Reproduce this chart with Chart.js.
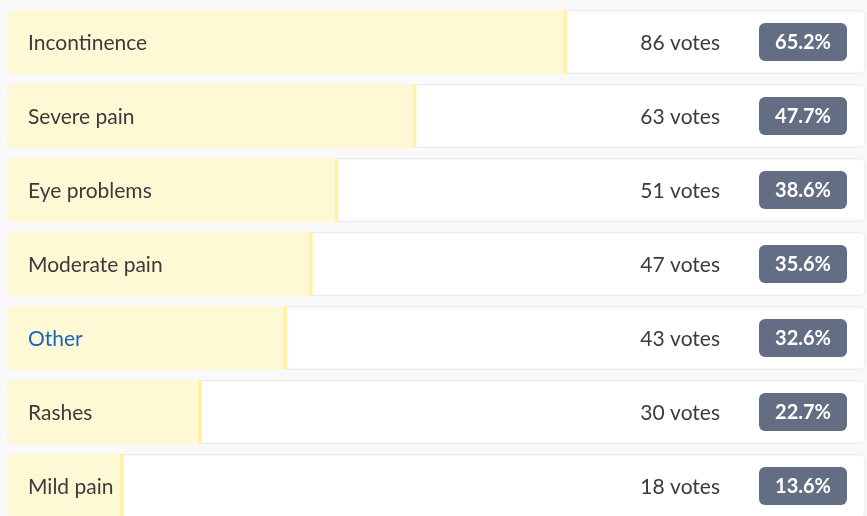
<!DOCTYPE html>
<html>
<head>
<meta charset="utf-8">
<script src="https://cdn.jsdelivr.net/npm/chart.js@4/dist/chart.umd.min.js"></script>
<style>
  html, body { margin: 0; padding: 0; background: #f9f9fb; overflow: hidden; }
  #wrap { position: relative; width: 867px; height: 530px; }
</style>
</head>
<body>
<div id="wrap"><canvas id="c"></canvas></div>
<script>
const categories = ["Incontinence", "Severe pain", "Eye problems", "Moderate pain", "Other", "Rashes", "Mild pain"];
const votes = [86, 63, 51, 47, 43, 30, 18];
const percents = [65.2, 47.7, 38.6, 35.6, 32.6, 22.7, 13.6];
const labelColors = ["#3b3b3b", "#3b3b3b", "#3b3b3b", "#3b3b3b", "#1565c0", "#3b3b3b", "#3b3b3b"];
const fullRow = categories.map(() => 100);

const FONT = "Lato, 'Noto Sans', sans-serif";

function roundRect(ctx, x, y, w, h, r) {
  ctx.beginPath();
  ctx.moveTo(x + r, y);
  ctx.lineTo(x + w - r, y);
  ctx.arcTo(x + w, y, x + w, y + r, r);
  ctx.lineTo(x + w, y + h - r);
  ctx.arcTo(x + w, y + h, x + w - r, y + h, r);
  ctx.lineTo(x + r, y + h);
  ctx.arcTo(x, y + h, x, y + h - r, r);
  ctx.lineTo(x, y + r);
  ctx.arcTo(x, y, x + r, y, r);
  ctx.closePath();
}

const textPlugin = {
  id: 'pollText',
  afterDatasetsDraw(chart) {
    const ctx = chart.ctx;
    const xs = chart.scales.x;
    const ys = chart.scales.y;
    const left = xs.getPixelForValue(0);
    const right = xs.getPixelForValue(100);
    ctx.save();
    categories.forEach((cat, i) => {
      const cy = ys.getPixelForValue(i);
      ctx.textBaseline = 'middle';
      ctx.font = "21px " + FONT;
      ctx.fillStyle = labelColors[i];
      ctx.textAlign = 'left';
      ctx.fillText(cat, left + 21, cy + 1);
      ctx.fillStyle = "#3b3b3b";
      ctx.textAlign = 'right';
      ctx.fillText(votes[i] + " votes", right - 146, cy + 1);
      const bx = right - 107, bw = 88, bh = 38;
      ctx.fillStyle = "#636e85";
      roundRect(ctx, bx, cy - bh / 2, bw, bh, 6);
      ctx.fill();
      ctx.fillStyle = "#ffffff";
      ctx.font = "bold 20px " + FONT;
      ctx.textAlign = 'center';
      ctx.fillText(percents[i].toFixed(1) + "%", bx + bw / 2, cy + 1);
    });
    ctx.restore();
  }
};

new Chart(document.getElementById('c'), {
  type: 'bar',
  data: {
    labels: categories,
    datasets: [
      {
        data: fullRow,
        backgroundColor: "#ffffff",
        borderColor: "#ebebf0",
        borderWidth: 1.5,
        borderSkipped: false,
        borderRadius: 6,
        grouped: false,
        order: 2,
        barPercentage: 64 / 74,
        categoryPercentage: 1
      },
      {
        data: percents,
        backgroundColor: "#fff8d5",
        borderColor: "#fff1a8",
        borderWidth: { left: 0, top: 0, bottom: 0, right: 4 },
        borderSkipped: false,
        borderRadius: { topLeft: 6, bottomLeft: 6, topRight: 0, bottomRight: 0 },
        grouped: false,
        order: 1,
        barPercentage: 64 / 74,
        categoryPercentage: 1
      }
    ]
  },
  options: {
    indexAxis: 'y',
    responsive: true,
    maintainAspectRatio: false,
    animation: false,
    layout: { padding: { left: 7, right: 1, top: 5, bottom: 7 } },
    plugins: { legend: { display: false }, tooltip: { enabled: false } },
    scales: {
      x: { min: 0, max: 100, display: false },
      y: { display: false }
    }
  },
  plugins: [textPlugin]
});
</script>
</body>
</html>
